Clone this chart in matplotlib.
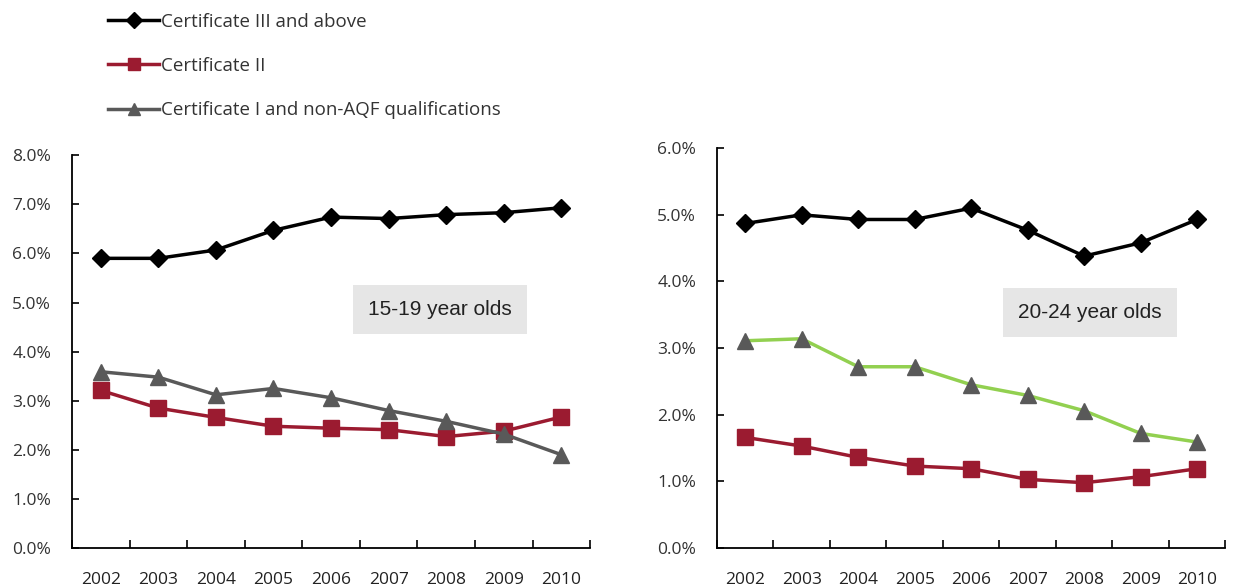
import matplotlib
matplotlib.use('Agg')
import matplotlib.pyplot as plt
from matplotlib.ticker import FuncFormatter, FixedLocator
from matplotlib.lines import Line2D

years = ['2002', '2003', '2004', '2005', '2006', '2007', '2008', '2009', '2010']

# 15-19 year olds (%)
teen_cert3 = [5.90, 5.90, 6.07, 6.47, 6.74, 6.71, 6.79, 6.83, 6.93]
teen_cert2 = [3.21, 2.85, 2.66, 2.48, 2.44, 2.41, 2.27, 2.38, 2.67]
teen_cert1 = [3.59, 3.48, 3.12, 3.25, 3.06, 2.80, 2.58, 2.32, 1.90]

# 20-24 year olds (%)
young_cert3 = [4.87, 5.00, 4.93, 4.93, 5.10, 4.77, 4.38, 4.58, 4.93]
young_cert2 = [1.66, 1.53, 1.36, 1.23, 1.19, 1.03, 0.98, 1.07, 1.19]
young_cert1 = [3.11, 3.14, 2.72, 2.72, 2.45, 2.29, 2.06, 1.72, 1.59]

labels = ['Certificate III and above', 'Certificate II',
          'Certificate I and non-AQF qualifications']

plt.rcParams['font.family'] = ['Open Sans', 'DejaVu Sans']

fig = plt.figure(figsize=(12.34, 5.88), dpi=100)
ax1 = fig.add_axes([0.0583, 0.068, 0.420, 0.668])
ax2 = fig.add_axes([0.581, 0.068, 0.412, 0.680])

red = '#9b1b30'
grey = '#595959'
x = list(range(len(years)))


def draw(ax, c3, c2, c1, c1_line, ymax, title, tx, ty):
    ax.plot(x, c3, color='black', lw=2.5, marker='D', ms=9)
    ax.plot(x, c2, color=red, lw=2.5, marker='s', ms=11)
    ax.plot(x, c1, color=c1_line, lw=2.5)
    ax.plot(x, c1, color=grey, lw=0, marker='^', ms=12)
    ax.set_xlim(-0.5, len(years) - 0.5)
    ax.set_ylim(0, ymax)
    ax.set_yticks([i for i in range(int(ymax) + 1)])
    ax.yaxis.set_major_formatter(FuncFormatter(lambda v, p: f'{v:.1f}%'))
    ax.set_xticks(x)
    ax.set_xticklabels(years)
    ax.xaxis.set_minor_locator(FixedLocator([i - 0.5 for i in range(len(years) + 1)]))
    ax.tick_params(axis='x', which='major', length=0, pad=17, labelsize=12.5,
                   labelcolor='#222222')
    ax.tick_params(axis='x', which='minor', length=6, direction='in', width=1.2)
    ax.tick_params(axis='y', length=5, direction='in', width=1.2, pad=15,
                   labelsize=12.5, labelcolor='#333333')
    for s in ['top', 'right']:
        ax.spines[s].set_visible(False)
    for s in ['left', 'bottom']:
        ax.spines[s].set_linewidth(1.3)
    ax.text(tx, ty, title, transform=ax.transAxes, ha='center', va='center',
            fontsize=15, family=['Liberation Sans', 'DejaVu Sans'],
            color='#222222',
            bbox=dict(boxstyle='square,pad=0.72', fc='#e6e6e6', ec='none'))


draw(ax1, teen_cert3, teen_cert2, teen_cert1, grey, 8, '15-19 year olds', 0.71, 0.606)
draw(ax2, young_cert3, young_cert2, young_cert1, '#92d050', 6, '20-24 year olds', 0.734, 0.59)

leg_handles = [
    Line2D([], [], color='black', lw=2.5, marker='D', ms=8),
    Line2D([], [], color=red, lw=2.5, marker='s', ms=9),
    Line2D([], [], color=grey, lw=2.5, marker='^', ms=9),
]
fig.legend(leg_handles, labels, loc='upper left', bbox_to_anchor=(0.074, 1.007),
           frameon=False, fontsize=13.5, handlelength=2.7, handletextpad=0.1,
           labelspacing=1.4, labelcolor='#333333')

fig.savefig('out.png', dpi=100)
